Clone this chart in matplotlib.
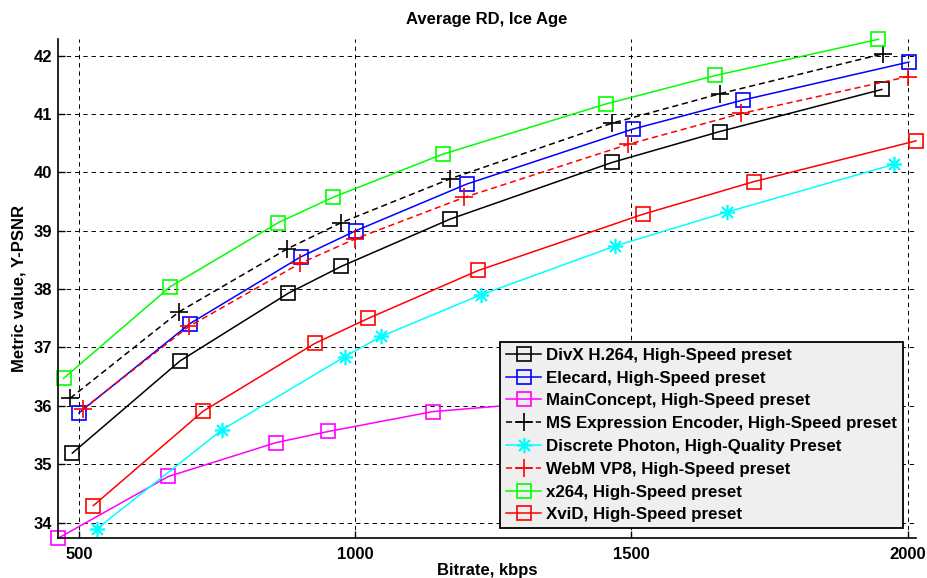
import matplotlib
matplotlib.use("Agg")
import matplotlib.pyplot as plt

plt.rcParams['font.family'] = ['Liberation Sans', 'DejaVu Sans']
plt.rcParams['font.weight'] = 'bold'

# Bitrate (kbps) and Y-PSNR for each codec
divx_kbps = [488, 683, 879, 975, 1172, 1465, 1660, 1953]
divx_psnr = [35.19, 36.77, 37.93, 38.39, 39.20, 40.17, 40.70, 41.42]

elecard_kbps = [500, 701, 901, 1001, 1202, 1502, 1702, 2002]
elecard_psnr = [35.88, 37.41, 38.55, 39.00, 39.80, 40.74, 41.24, 41.89]

mainconcept_kbps = [462, 662, 857, 951, 1140, 1420, 1660, 1950]
mainconcept_psnr = [33.73, 34.79, 35.37, 35.56, 35.90, 36.12, 36.30, 36.50]

ms_kbps = [484, 681, 877, 975, 1172, 1464, 1661, 1955]
ms_psnr = [36.13, 37.61, 38.69, 39.14, 39.89, 40.84, 41.35, 42.03]

photon_kbps = [532, 759, 981, 1047, 1227, 1471, 1673, 1976]
photon_psnr = [33.89, 35.59, 36.84, 37.19, 37.90, 38.74, 39.32, 40.14]

webm_kbps = [508, 699, 900, 1000, 1197, 1494, 1699, 2000]
webm_psnr = [35.95, 37.36, 38.44, 38.86, 39.57, 40.48, 41.01, 41.64]

x264_kbps = [472, 665, 861, 959, 1158, 1453, 1652, 1947]
x264_psnr = [36.47, 38.04, 39.14, 39.57, 40.31, 41.17, 41.66, 42.28]

xvid_kbps = [526, 725, 927, 1024, 1223, 1520, 1721, 2015]
xvid_psnr = [34.29, 35.91, 37.07, 37.50, 38.32, 39.28, 39.84, 40.54]

asterisk = (8, 2, 0)  # MATLAB-style '*' (plus and cross together)

series = [
    ("DivX H.264, High-Speed preset", divx_kbps, divx_psnr, "k", "-", "s"),
    ("Elecard, High-Speed preset", elecard_kbps, elecard_psnr, "#0000ff", "-", "s"),
    ("MainConcept, High-Speed preset", mainconcept_kbps, mainconcept_psnr, "#ff00ff", "-", "s"),
    ("MS Expression Encoder, High-Speed preset", ms_kbps, ms_psnr, "k", "--", "+"),
    ("Discrete Photon, High-Quality Preset", photon_kbps, photon_psnr, "#00ffff", "-", asterisk),
    ("WebM VP8, High-Speed preset", webm_kbps, webm_psnr, "#ff0000", "--", "+"),
    ("x264, High-Speed preset", x264_kbps, x264_psnr, "#00ff00", "-", "s"),
    ("XviD, High-Speed preset", xvid_kbps, xvid_psnr, "#ff0000", "-", "s"),
]
marker_sizes = {"s": 10, "+": 13}

fig = plt.figure(figsize=(9.27, 5.78), dpi=100)
ax = fig.add_axes([58 / 927, 1 - 538.3 / 578, (916 - 58) / 927, (538.3 - 39.3) / 578])

for name, xs, ys, color, ls, marker in series:
    ms = marker_sizes.get(marker, 11)
    line, = ax.plot(xs, ys, color=color, linestyle=ls, lw=1.1,
                    marker=marker, markersize=ms, markerfacecolor="none",
                    markeredgecolor=color, markeredgewidth=1.2, label=name,
                    clip_on=False)
    if ls == "--":
        line.set_dashes((4, 2.5))

all_x = sum([s[1] for s in series], [])
all_y = sum([s[2] for s in series], [])
ax.set_xlim(min(all_x), max(all_x))
ax.set_ylim(min(all_y), max(all_y))

ax.set_xticks([500, 1000, 1500, 2000])
ax.set_yticks(range(34, 43))
ax.grid(True, color="k", linestyle=(0, (4.5, 4)), lw=0.7)
ax.spines["top"].set_visible(False)
ax.spines["right"].set_visible(False)
ax.spines["left"].set_linewidth(1.2)
ax.spines["bottom"].set_linewidth(1.2)
ax.tick_params(direction="in", length=5, width=1, labelsize=12, pad=6)
ax.tick_params(axis="y", pad=4)

ax.set_title("Average RD, Ice Age", fontsize=12, fontweight="bold", pad=11)
ax.set_xlabel("Bitrate, kbps", fontsize=12, fontweight="bold", labelpad=1)
ax.set_ylabel("Metric value, Y-PSNR", fontsize=12, fontweight="bold", labelpad=5)

leg = ax.legend(loc="lower right", bbox_to_anchor=((903 - 58) / 858, 10 / 499),
                borderaxespad=0, handlelength=2.05, handletextpad=0.3,
                labelspacing=0.46, borderpad=0.35, fancybox=False, framealpha=1,
                prop={"weight": "bold", "size": 12.2})
leg.get_frame().set_facecolor("#efefef")
leg.get_frame().set_edgecolor("k")
leg.get_frame().set_linewidth(1.3)

fig.savefig("out.png", dpi=100)
